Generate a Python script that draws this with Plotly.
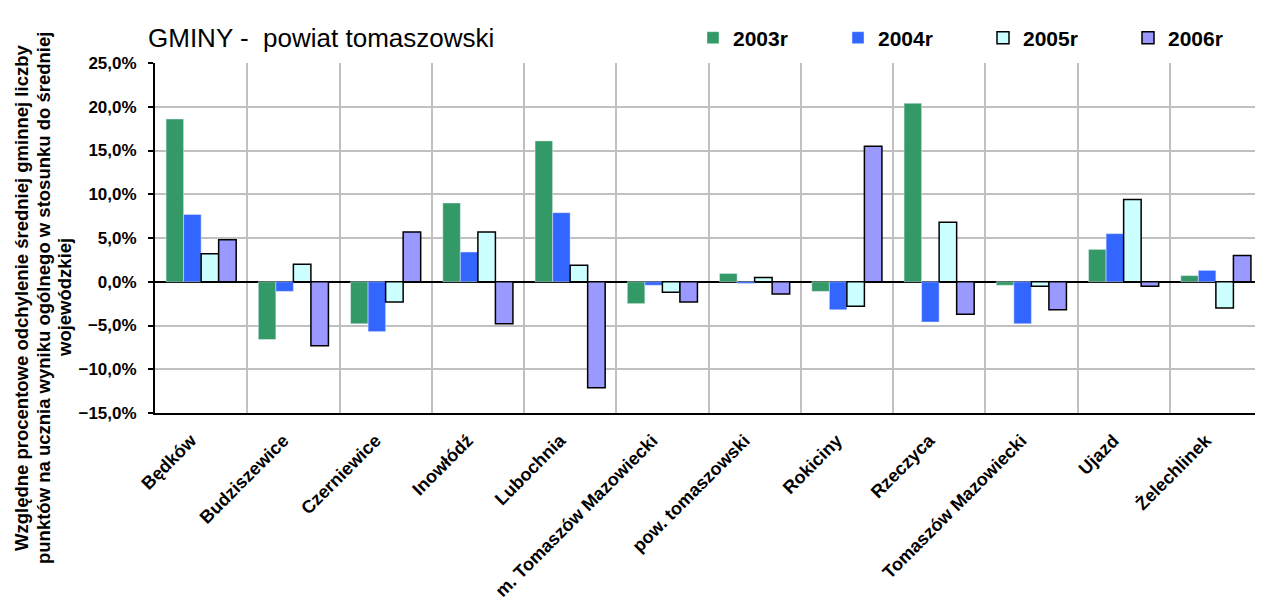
import plotly.graph_objects as go

gminy = ["Będków", "Budziszewice", "Czerniewice", "Inowłódź", "Lubochnia",
         "m. Tomaszów Mazowiecki", "pow. tomaszowski", "Rokiciny", "Rzeczyca",
         "Tomaszów Mazowiecki", "Ujazd", "Żelechlinek"]
r2003 = [18.6, -6.6, -4.8, 9.0, 16.1, -2.5, 0.95, -1.1, 20.4, -0.4, 3.7, 0.7]
r2004 = [7.7, -1.1, -5.7, 3.4, 7.9, -0.4, -0.2, -3.2, -4.6, -4.8, 5.5, 1.3]
r2005 = [3.2, 2.0, -2.3, 5.7, 1.9, -1.2, 0.5, -2.8, 6.8, -0.5, 9.4, -3.0]
r2006 = [4.8, -7.3, 5.7, -4.8, -12.1, -2.3, -1.4, 15.5, -3.7, -3.2, -0.5, 3.0]
ytitle = ["Względne procentowe odchylenie średniej gminnej liczby",
          "punktów na ucznia wyniku ogólnego w stosunku do średniej",
          "wojewódzkiej"]

# page body has an 8px margin, so the figure is a bit smaller and shifted
W, H = 1255, 600
L, T = 147, 55
PW, PH = 1107, 350

fig = go.Figure()
fig.add_trace(go.Bar(x=gminy, y=r2003, name="2003r", marker_color="#339966"))
fig.add_trace(go.Bar(x=gminy, y=r2004, name="2004r", marker_color="#3366ff"))
fig.add_trace(go.Bar(x=gminy, y=r2005, name="2005r", marker_color="#ccffff",
                     marker_line=dict(color="black", width=1.5)))
fig.add_trace(go.Bar(x=gminy, y=r2006, name="2006r", marker_color="#9999ff",
                     marker_line=dict(color="black", width=1.5)))

fig.update_layout(
    width=W, height=H,
    margin=dict(l=L, r=W - L - PW, t=T, b=H - T - PH),
    paper_bgcolor="white", plot_bgcolor="white",
    font=dict(family="Liberation Sans, Arial", color="black"),
    separators=", ",
    barmode="group", bargap=0.24, bargroupgap=0,
    title=dict(text="GMINY -  powiat tomaszowski", x=140/W, xanchor="left",
               xref="container", y=1-30/H, yanchor="middle",
               font=dict(size=26, color="black")),
    legend=dict(orientation="h", xref="container", yref="container",
                x=685/W, xanchor="left", y=1-30/H, yanchor="middle",
                entrywidth=100, entrywidthmode="pixels",
                font=dict(size=21, color="black", weight="bold"),
                bgcolor="rgba(0,0,0,0)"),
    showlegend=True,
)

# y axis title as three rotated lines
for line, px in zip(ytitle, [13, 35, 56]):
    fig.add_annotation(text=line, textangle=-90, showarrow=False,
                       xref="paper", yref="paper",
                       x=(px - L) / PW, y=(413 - 298) / PH,
                       xanchor="center", yanchor="middle",
                       font=dict(size=18.5, weight="bold", color="black"))

fig.update_xaxes(
    tickson="boundaries", showgrid=True, gridcolor="#c0c0c0", gridwidth=1.5,
    tickangle=-45, tickfont=dict(size=18, weight="bold"),
    ticklabelshift=-10, ticklabelstandoff=8,
    showline=True, linecolor="black", linewidth=2, ticks="",
    automargin=False,
)
fig.update_yaxes(
    range=[-15, 25], dtick=5, tickformat=".1f", ticksuffix="%",
    showgrid=True, gridcolor="#c0c0c0", gridwidth=1.5,
    zeroline=True, zerolinecolor="black", zerolinewidth=1.5,
    showline=True, linecolor="black", linewidth=2,
    ticks="outside", ticklen=5, tickcolor="black", tickwidth=1.5,
    tickfont=dict(size=17, weight="bold"), ticklabelstandoff=8,
    automargin=False,
)

fig.write_html("out.html")
